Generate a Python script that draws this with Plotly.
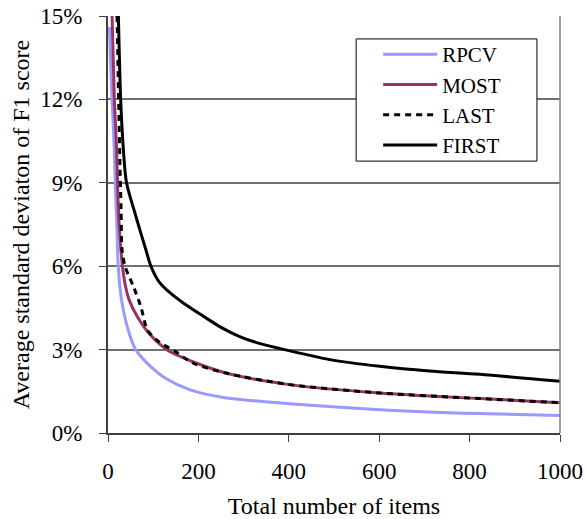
import plotly.graph_objects as go

rpcv_x = [3, 9, 14, 17, 19, 22.7, 30, 47, 62, 95, 128, 182, 255, 402, 601, 822, 1000]
rpcv_y = [14.6, 12.0, 10.2, 8.5, 7.78, 6.0, 4.78, 3.58, 2.98, 2.38, 1.96, 1.55, 1.28, 1.05, 0.84, 0.70, 0.63]

most_x = [9, 14, 19, 22, 25, 28.6, 32, 37.5, 47, 65, 91, 132, 198, 265, 402, 601, 822, 1000]
most_y = [15.0, 12.0, 10.2, 8.5, 7.4, 6.58, 6.0, 5.38, 4.78, 4.18, 3.58, 2.98, 2.5, 2.14, 1.74, 1.44, 1.24, 1.09]

last_x = [20, 23.5, 26.5, 29, 31, 37.5, 56.5, 72.8, 87.5, 113, 150, 190, 265, 402, 601, 822, 1000]
last_y = [15.0, 12.0, 9.6, 8.0, 6.6, 6.0, 5.26, 4.54, 3.70, 3.28, 2.92, 2.5, 2.14, 1.74, 1.44, 1.24, 1.09]

first_x = [23, 28, 34, 41, 62, 84, 95, 113, 139, 168, 213, 250, 290, 329, 380, 491, 601, 711, 822, 1000]
first_y = [15.0, 12.0, 10.2, 9.0, 7.78, 6.58, 6.0, 5.44, 5.02, 4.66, 4.18, 3.80, 3.48, 3.25, 3.04, 2.64, 2.40, 2.23, 2.11, 1.86]

series_names = ["RPCV", "MOST", "LAST", "FIRST"]

x_ticks = [0, 200, 400, 600, 800, 1000]
y_ticks = [0, 3, 6, 9, 12, 15]
y_tick_labels = ["0%", "3%", "6%", "9%", "12%", "15%"]

FONT = "Liberation Serif, Times New Roman, serif"

fig = go.Figure()
fig.add_trace(go.Scatter(x=rpcv_x, y=rpcv_y, mode="lines", name=series_names[0],
                         line=dict(color="#9999FF", width=3, shape="spline", smoothing=0.8)))
fig.add_trace(go.Scatter(x=most_x, y=most_y, mode="lines", name=series_names[1],
                         line=dict(color="#993366", width=3, shape="spline", smoothing=0.8)))
fig.add_trace(go.Scatter(x=last_x, y=last_y, mode="lines", name=series_names[2],
                         line=dict(color="black", width=3, dash="6px,5px", shape="spline", smoothing=0.8)))
fig.add_trace(go.Scatter(x=first_x, y=first_y, mode="lines", name=series_names[3],
                         line=dict(color="black", width=3, shape="spline", smoothing=0.8)))

fig.update_layout(
    width=586, height=519,
    margin=dict(l=108, r=26, t=16, b=86, autoexpand=False),
    paper_bgcolor="white", plot_bgcolor="white",
    font=dict(family=FONT, size=23, color="black"),
    showlegend=True,
    legend=dict(x=0.549, y=0.7986, xanchor="left", yanchor="middle",
                bgcolor="rgba(0,0,0,0)", borderwidth=0,
                font=dict(family=FONT, size=21), itemwidth=54,
                indentation=22, tracegroupgap=0),
)
fig.update_xaxes(range=[0, 1000], tickvals=x_ticks, ticks="outside", ticklen=7,
                 tickcolor="#404040", showline=True, linecolor="#404040", linewidth=2,
                 mirror=False, showgrid=False, zeroline=False, automargin=False,
                 ticklabelstandoff=9,
                 title=dict(text="Total number of items", standoff=15, font=dict(size=24)),
                 tickfont=dict(size=23))
fig.update_yaxes(range=[0, 15], tickvals=y_ticks, ticktext=y_tick_labels, ticks="outside",
                 ticklen=7, tickcolor="#404040", showline=True, linecolor="#404040", linewidth=2,
                 showgrid=True, gridcolor="#707070", gridwidth=1.5, zeroline=False, automargin=False,
                 ticklabelstandoff=12,
                 title=dict(text="Average standard deviaton of F1 score", standoff=4, font=dict(size=24)),
                 tickfont=dict(size=23))
# right border of plot area
fig.add_shape(type="line", xref="paper", yref="paper", x0=1, x1=1, y0=0, y1=1,
              line=dict(color="#808080", width=1.5))
# legend frame (white box with black border behind the legend entries)
fig.add_shape(type="rect", xref="paper", yref="paper", layer="above",
              x0=0.549, x1=0.949, y0=0.652, y1=0.945,
              fillcolor="white", line=dict(color="black", width=1))

fig.write_html("out.html", config={"displayModeBar": False},
               post_script="document.body.style.margin='0px';")
